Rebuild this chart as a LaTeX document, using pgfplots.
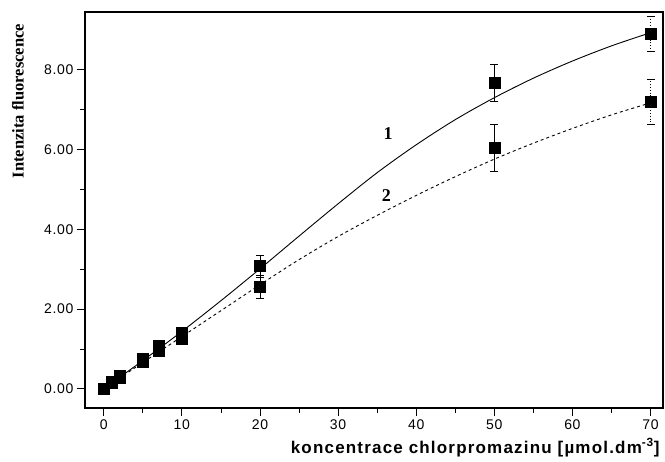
\documentclass[border=0pt]{standalone}
\usepackage{fontspec}
\setmainfont{Liberation Serif}
\newfontfamily\tickfont[LetterSpace=5]{Liberation Sans}
\newfontfamily\labelfont[LetterSpace=7]{Liberation Sans}
\usepackage{pgfplots}
\pgfplotsset{compat=1.18}
\usetikzlibrary{calc}
\begin{document}
\begin{tikzpicture}
\begin{axis}[
    scale only axis,
    width=578pt, height=396pt,
    xmin=-2.4, xmax=71.6,
    ymin=-0.48, ymax=9.45,
    xtick={0,10,...,70},
    ytick={0,2,...,8},
    minor x tick num=1,
    minor y tick num=1,
    xtick pos=bottom, ytick pos=left,
    tick align=outside,
    major tick length=8pt, minor tick length=5pt,
    tick style={black, line width=0.8pt},
    axis line style={line width=1.3pt},
    /pgf/number format/assume math mode=true,
    ticklabel style={font=\tickfont\fontsize{14}{16}\selectfont},
    yticklabel style={/pgf/number format/.cd, fixed, fixed zerofill, precision=2},
    xticklabel style={/pgf/number format/.cd, fixed, precision=0},
    xlabel={\labelfont\bfseries koncentrace chlorpromazinu [µmol.dm\textsuperscript{-3}]},
    xlabel style={font=\fontsize{17}{19}\selectfont,
        at={(axis description cs:0.675,-0.1)}, anchor=center},
    ylabel={\fontsize{16.5}{19}\selectfont\bfseries Intenzita fluorescence},
    ylabel style={at={(axis description cs:-0.116,0.775)}, anchor=center},
    error bars/error bar style={line width=0.8pt},
    error bars/error mark options={rotate=90, mark size=4pt, line width=0.6pt},
]
\coordinate (sw) at (rel axis cs:0,0);
\coordinate (ne) at (rel axis cs:1,1);
% fitted curves
\addplot[black, line width=0.9pt, smooth, no marks] coordinates {
    (0,0) (5,0.71) (10,1.44) (15,2.21) (20,3.01) (25,3.83) (30,4.64)
    (35,5.42) (40,6.12) (45,6.75) (50,7.30) (55,7.79) (60,8.22) (65,8.60) (70,8.93)
};
\addplot[black, line width=0.9pt, dashed, smooth, no marks] coordinates {
    (0,0) (5,0.66) (10,1.31) (15,1.96) (20,2.61) (25,3.24) (30,3.82)
    (35,4.35) (40,4.85) (45,5.32) (50,5.76) (55,6.16) (60,6.53) (65,6.87) (70,7.17)
};
% series 1 data
\addplot[black, only marks, mark=square*, mark size=5.5pt,
    error bars/.cd, y dir=both, y explicit] coordinates {
    (0,0) +- (0,0)
    (1,0.18) +- (0,0)
    (2,0.34) +- (0,0)
    (5,0.76) +- (0,0)
    (7,1.08) +- (0,0)
    (10,1.40) +- (0,0)
    (20,3.08) +- (0,0.28)
    (50,7.68) +- (0,0.46)
};
\addplot[black, only marks, mark=square*, mark size=5.5pt,
    error bars/.cd, y dir=both, y explicit,
    error bar style={line width=0.8pt, dotted}] coordinates {
    (70,8.9) +- (0,0.44)
};
% series 2 data
\addplot[black, only marks, mark=square*, mark size=5.5pt,
    error bars/.cd, y dir=both, y explicit] coordinates {
    (0,0) +- (0,0)
    (1,0.15) +- (0,0)
    (2,0.28) +- (0,0)
    (5,0.68) +- (0,0)
    (7,0.96) +- (0,0)
    (10,1.26) +- (0,0.12)
    (20,2.56) +- (0,0.28)
    (50,6.04) +- (0,0.59)
};
\addplot[black, only marks, mark=square*, mark size=5.5pt,
    error bars/.cd, y dir=both, y explicit,
    error bar style={line width=0.8pt, dotted}] coordinates {
    (70,7.2) +- (0,0.56)
};
\node[font=\bfseries\fontsize{18}{20}\selectfont] at (axis cs:36.4,6.4) {1};
\node[font=\bfseries\fontsize{18}{20}\selectfont] at (axis cs:36.2,4.84) {2};
\end{axis}
\pgfresetboundingbox
\path ($(sw)+(-85pt,-54pt)$) rectangle ($(ne)+(2pt,12pt)$);
\end{tikzpicture}
\end{document}
